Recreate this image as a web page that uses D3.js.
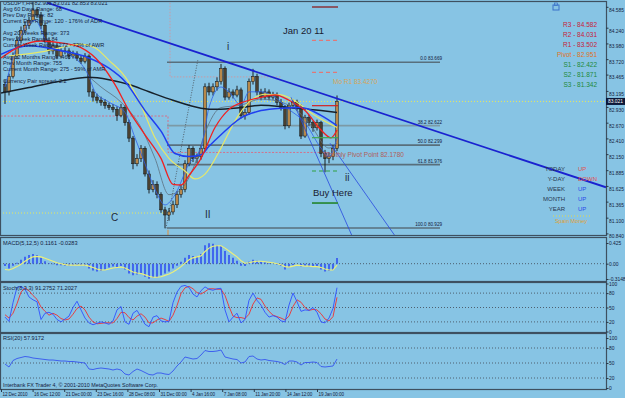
<!DOCTYPE html>
<html>
<head>
<meta charset="utf-8">
<script src="https://cdn.jsdelivr.net/npm/d3@7"></script>
<style>
  body { margin: 0; background: #87c4e4; }
  svg { display: block; font-family: "Liberation Sans", Arial, sans-serif; }
</style>
</head>
<body>
<svg id="chart"></svg>
<script>
// ---- price bars (USDJPY H4) ----
const opens = [83.300,83.178,83.432,83.771,84.025,84.195,84.280,84.364,84.534,84.449,
  84.280,84.025,83.856,83.941,83.771,83.856,83.856,83.771,83.805,83.737,
  83.686,83.771,83.178,83.093,83.042,83.008,82.957,82.924,82.890,82.788,
  82.924,82.669,82.415,81.991,82.076,82.246,81.822,81.568,81.652,81.483,
  81.229,81.144,81.195,81.313,81.483,81.568,81.991,82.246,82.076,82.110,
  82.246,83.263,83.178,83.263,83.347,83.568,83.093,83.178,83.127,83.212,
  82.788,82.839,83.347,83.432,83.178,83.093,83.178,83.093,83.127,83.008,
  82.924,82.619,82.957,83.008,82.924,82.449,82.754,82.669,82.585,82.669,
  82.161,82.076,82.110,82.246];
const highs = [83.380,83.480,83.830,84.100,84.260,84.350,84.420,84.700,84.560,84.500,
  84.320,84.080,84.000,83.990,83.900,83.920,83.900,83.860,83.850,83.780,
  83.820,83.800,83.230,83.150,83.100,83.060,83.000,82.980,82.940,82.980,
  82.960,82.720,82.450,82.150,82.300,82.280,81.880,81.720,81.700,81.520,
  81.280,81.260,81.380,81.540,81.640,82.050,82.300,82.280,82.160,82.300,
  83.320,83.330,83.320,83.420,83.640,83.600,83.240,83.220,83.280,83.250,
  82.900,83.400,83.560,83.480,83.230,83.240,83.220,83.180,83.170,83.060,
  82.960,83.000,83.060,83.050,82.970,82.800,82.800,82.700,82.720,82.700,
  82.220,82.180,82.300,83.120];
const lows = [82.980,83.120,83.400,83.720,83.980,84.150,84.220,84.330,84.400,84.220,
  83.980,83.800,83.800,83.720,83.730,83.800,83.720,83.730,83.690,83.640,
  83.650,83.100,83.020,82.990,82.950,82.900,82.880,82.840,82.700,82.760,
  82.620,82.350,81.900,81.950,82.020,81.780,81.500,81.520,81.420,81.180,
  80.924,81.050,81.150,81.260,81.430,81.520,81.950,82.020,82.000,82.060,
  82.200,83.120,83.120,83.200,83.300,83.040,83.050,83.070,83.090,82.740,
  82.720,82.800,83.300,83.120,83.040,83.050,83.040,83.050,82.960,82.870,
  82.560,82.580,82.900,82.870,82.400,82.420,82.620,82.520,82.540,82.100,
  81.850,82.000,82.050,82.200];
const closes = [83.178,83.432,83.771,84.025,84.195,84.280,84.364,84.534,84.449,84.280,
  84.025,83.856,83.941,83.771,83.856,83.856,83.771,83.805,83.737,83.686,
  83.771,83.178,83.093,83.042,83.008,82.957,82.924,82.890,82.788,82.924,
  82.669,82.415,81.991,82.076,82.246,81.822,81.568,81.652,81.483,81.229,
  81.144,81.195,81.313,81.483,81.568,81.991,82.246,82.076,82.110,82.246,
  83.263,83.178,83.263,83.347,83.568,83.093,83.178,83.127,83.212,82.788,
  82.839,83.347,83.432,83.178,83.093,83.178,83.093,83.127,83.008,82.924,
  82.619,82.957,83.008,82.924,82.449,82.754,82.669,82.585,82.669,82.161,
  82.076,82.110,82.246,83.021];

// ---- moving averages, [bar, price] ----
const maBlack = [[-1,83.16],[6,83.25],[14,83.36],[21,83.42],[26,83.38],[31,83.30],[36,83.18],[42,83.04],
  [49,82.91],[53,82.89],[59,82.92],[64,82.96],[71,82.92],[79,82.87],[83,82.84]];
const maRed = [[-1,83.74],[4,83.94],[9,84.02],[14,83.99],[19,83.91],[24,83.64],[27.5,83.30],[31,82.87],
  [35,82.47],[39,82.08],[42,81.65],[44,81.64],[46,81.80],[49,82.08],[52.5,82.59],[56,82.89],[60,83.02],
  [64,83.09],[67.5,83.13],[71,83.04],[75,82.87],[79,82.55],[81.5,82.42],[83,82.55]];
const maBlue = [[-1,83.80],[6,83.94],[14,83.86],[21,83.74],[26,83.57],[30,83.35],[35,82.87],[39,82.53],
  [42.5,82.16],[46,82.11],[49,82.14],[51,82.28],[54,82.47],[59,82.75],[64,82.87],[69,82.91],[74,82.92],
  [79,82.79],[83,82.62]];
const maYellow = [[1,83.77],[9,83.84],[14,83.91],[19,83.97],[22.5,83.91],[26,83.70],[30,83.43],[34,82.96],
  [37.5,82.42],[41,82.08],[45,81.87],[47.5,81.74],[50,81.82],[54,82.25],[57.5,82.70],[61,83.01],
  [65,83.14],[69,83.13],[72.5,83.03],[77,82.81],[83,82.59]];
const maFast = [[0,83.26],[4,84.11],[7.5,84.36],[11,83.94],[16,83.81],[21,83.43],[22.5,83.18],[26,83.01],
  [30,82.84],[32.5,82.42],[35,81.99],[37.5,81.57],[40,81.31],[42.5,81.48],[46,81.99],[49,82.25],
  [51,82.92],[54,83.26],[56,83.18],[59,82.96],[61,83.18],[64,83.18],[67.5,83.09],[71,82.89],
  [75,82.67],[79,82.25],[81,82.11],[83,82.42]];
const maGray = [[21,83.43],[24,83.26],[29,83.01],[34,82.59],[37.5,82.08],[41,81.48],[44,81.57],[47.5,81.99],
  [50,82.50],[54,82.92],[59,82.96],[64,83.06],[71,82.96],[76,82.67],[81,82.25],[83,82.33]];

// ---- drawn objects ----
const trendMain = [[10.5,84.652],[150.25,81.602]];
const trendDotted = [[40.25,80.924],[48.25,83.72]];
const channelA = [[71.5,83.09],[86.75,80.80]];
const channelB = [[81.25,82.33],[97.5,80.80]];
const fibLevels = ["0.0","38.2","50.0","61.8","100.0"];
const fibPrices = [83.669,82.622,82.299,81.976,80.929];
const fibFrom = 40.5, fibTo = 108.75;
const pivotNames = ["R3","R2","R1","Pivot","S1","S2","S3"];
const pivotValues = [84.582,84.031,83.502,82.951,82.422,81.871,81.342];
const monthPivotPrev = 82.780, monthPivot = 82.178, monthR1 = 83.427, monthStart = 40.75;
const bidPrice = 83.021, lowMark = 81.177;
const waveLabels = ["C","II","i","ii"];
const waveBars = [26.5,50,55.5,85];
const wavePrices = [81.05,81.09,83.87,81.70];

// ---- indicators ----
const macdMain = [-0.05,-0.10,-0.04,0.02,0.08,0.14,0.18,0.20,0.18,0.12,
  0.05,0.01,-0.01,-0.03,-0.03,-0.04,-0.04,-0.03,-0.02,-0.03,
  -0.04,-0.10,-0.14,-0.16,-0.15,-0.12,-0.08,-0.06,-0.07,-0.05,
  -0.12,-0.20,-0.24,-0.22,-0.20,-0.27,-0.31,-0.29,-0.28,-0.24,
  -0.20,-0.16,-0.10,-0.04,0.04,0.12,0.18,0.16,0.15,0.20,
  0.38,0.42,0.41,0.38,0.36,0.26,0.18,0.12,0.06,-0.04,
  -0.05,0.04,0.08,0.06,0.04,0.03,0.01,0.00,-0.02,-0.05,
  -0.12,-0.08,-0.03,0.00,-0.06,-0.05,-0.06,-0.07,-0.06,-0.12,
  -0.16,-0.15,-0.13,0.1161];
const macdSignal = [-0.12,-0.13,-0.10,-0.06,-0.01,0.05,0.10,0.14,0.15,0.14,
  0.11,0.08,0.05,0.02,0.00,-0.02,-0.03,-0.03,-0.03,-0.03,
  -0.03,-0.05,-0.08,-0.11,-0.13,-0.13,-0.11,-0.09,-0.08,-0.07,
  -0.09,-0.13,-0.17,-0.19,-0.20,-0.23,-0.26,-0.28,-0.28,-0.27,
  -0.24,-0.21,-0.17,-0.12,-0.06,0.01,0.08,0.12,0.14,0.16,
  0.25,0.32,0.36,0.37,0.37,0.32,0.26,0.20,0.14,0.06,
  0.01,0.02,0.04,0.05,0.05,0.04,0.03,0.02,0.00,-0.02,
  -0.06,-0.07,-0.05,-0.03,-0.04,-0.05,-0.05,-0.06,-0.06,-0.08,
  -0.11,-0.13,-0.13,-0.0283];
const stochK = [30,21,60,92,94,88,72,66,62,25,38,40,36,25,20,26,32,50,63,45,
  28,18,14,17,20,18,15,22,45,52,20,15,38,44,30,15,10,30,33,22,
  20,21,60,82,94,96,92,78,72,85,93,88,86,89,90,45,20,30,38,18,
  25,65,80,65,55,40,30,33,30,22,20,55,80,62,42,45,44,50,40,20,
  18,28,48,91.2752];
const stochD = [35,28,38,58,82,91,85,75,67,51,42,34,38,34,27,24,26,36,48,53,
  45,30,20,16,17,18,18,18,27,40,39,29,24,32,37,30,18,18,24,28,
  25,21,34,54,79,91,94,89,81,78,83,89,89,88,88,75,52,32,29,29,
  27,36,57,70,67,53,42,34,31,28,24,32,52,66,61,50,44,46,45,37,
  26,22,31,71.2027];
const rsiVals = [48,42,55,59,61,63,62,60,59,58,57,56,56,55,54,54,53,53,52,51,
  50,38,37,39,40,39,38,36,38,36,28,26,33,38,35,31,27,26,30,30,
  28,27,34,44,52,62,60,58,59,66,75,73,73,74,76,62,60,58,57,50,
  52,63,64,58,56,57,55,54,53,51,47,54,54,52,46,51,51,52,51,43,
  42,43,44,57.9172];

// ---- axis labels ----
const priceTicks = [84.585,84.240,83.980,83.720,83.465,83.195,82.930,82.670,82.410,82.150,81.885,81.625,81.365,81.100,80.840];
const macdTicks = [0.425,0,-0.3148];
const macdTickText = ["0.425","0.00","-0.3148"];
const oscTicks = [100,80,50,20,0];
const dateLabels = ["12 Dec 2010","16 Dec 12:00","21 Dec 00:00","23 Dec 16:00","28 Dec 08:00","31 Dec 00:00",
  "4 Jan 16:00","7 Jan 08:00","11 Jan 20:00","14 Jan 12:00","19 Jan 00:00"];
const dateBars = [-1,6.9,14.8,22.7,30.6,38.5,46.4,54.3,62.2,70.1,78];
const infoLines = ["USDJPY,H4  82.908 83.031 82.853 83.021","Avg 60 Days Range: 68","Prev Day Range: 82",
  "Current Day Range: 120 - 176% of ADR","","Avg 20 Weeks Range: 373","Prev Week Range: 84",
  "Current Week Range: 272 - 73% of AWR","","Avg 12 Months Range: 466","Prev Month Range: 755",
  "Current Month Range: 275 - 59% of AMR","","Currency Pair spread: 2.2"];
const trendNames = ["TODAY","Y-DAY","WEEK","MONTH","YEAR"];
const trendValues = ["UP","DOWN","UP","UP","UP"];

// ================= drawing =================
const W = 625, H = 398, R = 606;
const panels = { main: [2, 235], macd: [238, 281], stoch: [283, 332], rsi: [334, 389] };
const ink = "#14213d";

const svg = d3.select("#chart").attr("width", W).attr("height", H);

const x = d3.scaleLinear().domain([0, 83]).range([5, 337]);
const yP = d3.scaleLinear().domain([84.582, 80.840]).range([7, 233.4]);
const yM = d3.scaleLinear().domain([0.425, -0.3148]).range([243, 279]);
const yS = d3.scaleLinear().domain([100, 0]).range([283.5, 331.5]);
const yR = d3.scaleLinear().domain([100, 0]).range([338, 388]);

const defs = svg.append("defs");
Object.entries(panels).forEach(([k, [t, b]]) => {
  defs.append("clipPath").attr("id", "clip-" + k)
    .append("rect").attr("x", 1).attr("y", t).attr("width", R - 1).attr("height", b - t);
});

const main = svg.append("g").attr("clip-path", "url(#clip-main)");
const lineP = d3.line().x(d => x(d[0])).y(d => yP(d[1]));
const smoothP = d3.line().x(d => x(d[0])).y(d => yP(d[1])).curve(d3.curveMonotoneX);

// horizontal helper lines
main.append("line")
  .attr("x1", 0).attr("x2", R).attr("y1", yP(bidPrice)).attr("y2", yP(bidPrice))
  .attr("stroke", "#e8e85a").attr("stroke-dasharray", "1,2");
main.append("line")
  .attr("x1", 0).attr("x2", x(monthStart - 0.75)).attr("y1", yP(lowMark)).attr("y2", yP(lowMark))
  .attr("stroke", "#e8e85a").attr("stroke-dasharray", "1,2");

const pinkPath = [[-2, monthPivotPrev], [monthStart, monthPivotPrev], [monthStart, monthPivot], [81, monthPivot]];
main.append("path").attr("d", lineP(pinkPath))
  .attr("fill", "none").attr("stroke", "#d4708a").attr("stroke-dasharray", "2,1.5");
main.append("path").attr("d", lineP([[monthStart + 0.5, 84.9], [monthStart + 0.5, monthR1], [69, monthR1]]))
  .attr("fill", "none").attr("stroke", "#c89aa6").attr("stroke-dasharray", "1.5,1.5");

// fibonacci levels
main.selectAll(".fib").data(fibPrices).join("line")
  .attr("x1", x(fibFrom)).attr("x2", x(fibTo))
  .attr("y1", d => yP(d)).attr("y2", d => yP(d))
  .attr("stroke", (d, i) => i === 1 ? "#7c9aa6" : "#586f7c").attr("stroke-width", 1.6);
main.selectAll(".fibt").data(fibPrices).join("text")
  .attr("x", x(fibTo) + 2).attr("y", d => yP(d) - 2)
  .attr("text-anchor", "end").attr("font-size", 4.6).attr("fill", ink)
  .text((d, i) => `${fibLevels[i]}   ${d.toFixed(3)}`);

// orange marker
main.append("line")
  .attr("x1", x(monthStart)).attr("x2", x(monthStart)).attr("y1", yP(80.90)).attr("y2", 240)
  .attr("stroke", "#e0903a");

// dotted fib trend
main.append("path").attr("d", lineP(trendDotted))
  .attr("stroke", "#50606c").attr("stroke-dasharray", "1,1.5").attr("fill", "none");

// candles
const bars = closes.map((c, i) => ({ i, o: opens[i], h: highs[i], l: lows[i], c }));
main.selectAll(".wick").data(bars).join("line")
  .attr("x1", d => x(d.i)).attr("x2", d => x(d.i))
  .attr("y1", d => yP(d.h)).attr("y2", d => yP(d.l))
  .attr("stroke", "#111").attr("stroke-width", 0.9);
main.selectAll(".body").data(bars).join("rect")
  .attr("x", d => x(d.i) - 1.3).attr("width", 2.6)
  .attr("y", d => yP(Math.max(d.o, d.c)))
  .attr("height", d => Math.max(0.8, Math.abs(yP(d.o) - yP(d.c))))
  .attr("fill", d => d.c >= d.o ? "#b8884a" : "#4a4030")
  .attr("stroke", "#111").attr("stroke-width", 0.5);

// moving averages
[[maGray, "#5c7080", 0.8], [maFast, "#2f5fe8", 0.8], [maBlack, "#16202a", 1.5],
 [maYellow, "#e6e86a", 1.2], [maBlue, "#1f3ff0", 1.5], [maRed, "#f02020", 1.3]]
  .forEach(([pts, col, w]) => {
    main.append("path").attr("d", smoothP(pts))
      .attr("fill", "none").attr("stroke", col).attr("stroke-width", w);
  });

// trend lines
main.append("path").attr("d", lineP(trendMain))
  .attr("stroke", "#1a22d0").attr("stroke-width", 1.8).attr("fill", "none");
[channelA, channelB].forEach(pts => {
  main.append("path").attr("d", lineP(pts))
    .attr("stroke", "#2848e0").attr("stroke-width", 0.8).attr("fill", "none");
});

// pivot markers
const pivColors = ["#8b1010", "#e07878", "#e07878", "#d42020", "#40a850", "#30a040", "#2e8b40"];
const pivDash = [null, "4,3", "4,3", null, null, "4,3", null];
main.selectAll(".piv").data(pivotValues).join("line")
  .attr("x1", x(76.75)).attr("x2", x(83.25))
  .attr("y1", d => yP(d)).attr("y2", d => yP(d))
  .attr("stroke", (d, i) => pivColors[i])
  .attr("stroke-dasharray", (d, i) => pivDash[i])
  .attr("stroke-width", (d, i) => i === 6 ? 1.8 : 1.2);

// on-chart labels
main.append("text").attr("x", x(82)).attr("y", yP(monthR1) + 7)
  .attr("font-size", 6.5).attr("fill", "#d8a458").text("Mo R1   83.4270");
main.append("text").attr("x", x(79.5)).attr("y", yP(monthPivot) + 5)
  .attr("font-size", 6.5).attr("fill", "#b0605a").text("Monthly Pivot Point   82.1780");
main.append("text").attr("x", x(77)).attr("y", yP(81.455))
  .attr("font-size", 9.5).attr("fill", "#1a2030").text("Buy Here");
main.selectAll(".wave").data(waveLabels).join("text")
  .attr("x", (d, i) => x(waveBars[i])).attr("y", (d, i) => yP(wavePrices[i]))
  .attr("font-size", 10).attr("fill", "#1e2a3a").text(d => d);
main.append("text").attr("x", 283).attr("y", 34)
  .attr("font-size", 9.5).attr("fill", "#1a2030").text("Jan 20 11");

// info box
svg.selectAll(".info").data(infoLines).join("text")
  .attr("x", 3).attr("y", (d, i) => 3 + i * 6).attr("dy", "0.35em")
  .attr("font-size", 5.6).attr("fill", ink).text(d => d);

// pivot table
const pivTextColors = ["#c8203a", "#c8203a", "#c8203a", "#e0701e", "#1e8a3a", "#1e8a3a", "#1e8a3a"];
svg.selectAll(".pivt").data(pivotValues).join("text")
  .attr("x", 597).attr("y", (d, i) => 25 + i * 10).attr("dy", "0.35em")
  .attr("text-anchor", "end").attr("font-size", 6.5)
  .attr("fill", (d, i) => pivTextColors[i])
  .text((d, i) => `${pivotNames[i]} - ${d.toFixed(3)}`);

// trend table
svg.selectAll(".trn").data(trendNames).join("text")
  .attr("x", 565).attr("y", (d, i) => 169 + i * 10).attr("dy", "0.35em")
  .attr("text-anchor", "end").attr("font-size", 6).attr("fill", "#26364e").text(d => d);
svg.selectAll(".trv").data(trendValues).join("text")
  .attr("x", 578).attr("y", (d, i) => 169 + i * 10).attr("dy", "0.35em")
  .attr("font-size", 6).attr("fill", (d, i) => i < 2 ? "#e05050" : "#2a4ae8").text(d => d);
svg.append("line").attr("x1", 553).attr("x2", 590).attr("y1", 216).attr("y2", 216)
  .attr("stroke", "#e8d84a").attr("stroke-dasharray", "1,2");
svg.append("text").attr("x", 571).attr("y", 221).attr("dy", "0.35em").attr("text-anchor", "middle")
  .attr("font-size", 5.5).attr("fill", "#e0a030").text("Spain Money");

// small icon top-right
svg.append("rect").attr("x", 553).attr("y", 5).attr("width", 6).attr("height", 5)
  .attr("fill", "none").attr("stroke", "#3a70c8");
svg.append("rect").attr("x", 554.5).attr("y", 3).attr("width", 3).attr("height", 2.5)
  .attr("fill", "none").attr("stroke", "#3a70c8").attr("stroke-width", 0.7);

// ---- MACD panel ----
const macd = svg.append("g").attr("clip-path", "url(#clip-macd)");
macd.append("line").attr("x1", 0).attr("x2", R).attr("y1", yM(0)).attr("y2", yM(0))
  .attr("stroke", "#4e6070").attr("stroke-dasharray", "1,2");
macd.selectAll(".hist").data(macdMain).join("line")
  .attr("x1", (d, i) => x(i)).attr("x2", (d, i) => x(i))
  .attr("y1", yM(0)).attr("y2", d => yM(d))
  .attr("stroke", "#3050f0").attr("stroke-width", 1.6);
macd.append("path")
  .attr("d", d3.line().x((d, i) => x(i)).y(d => yM(d))(macdSignal))
  .attr("fill", "none").attr("stroke", "#eef078").attr("stroke-width", 1.1);
svg.append("text").attr("x", 3).attr("y", 243).attr("dy", "0.35em")
  .attr("font-size", 5.6).attr("fill", ink).text("MACD(5,12,5) 0.1161 -0.0283");

// ---- Stochastic panel ----
const stoch = svg.append("g").attr("clip-path", "url(#clip-stoch)");
stoch.selectAll(".lvl").data([80, 50, 20]).join("line")
  .attr("x1", 0).attr("x2", R).attr("y1", d => yS(d)).attr("y2", d => yS(d))
  .attr("stroke", "#4e6070").attr("stroke-dasharray", "1,2");
stoch.append("path").attr("d", d3.line().x((d, i) => x(i)).y(d => yS(d))(stochD))
  .attr("fill", "none").attr("stroke", "#f03030").attr("stroke-width", 0.9);
stoch.append("path").attr("d", d3.line().x((d, i) => x(i)).y(d => yS(d))(stochK))
  .attr("fill", "none").attr("stroke", "#3050ff").attr("stroke-width", 0.9);
svg.append("text").attr("x", 3).attr("y", 288).attr("dy", "0.35em")
  .attr("font-size", 5.6).attr("fill", ink).text("Stoch(8,3,3) 91.2752 71.2027");

// ---- RSI panel ----
const rsi = svg.append("g").attr("clip-path", "url(#clip-rsi)");
rsi.selectAll(".lvl").data([80, 50, 20]).join("line")
  .attr("x1", 0).attr("x2", R).attr("y1", d => yR(d)).attr("y2", d => yR(d))
  .attr("stroke", "#4e6070").attr("stroke-dasharray", "1,2");
rsi.append("path").attr("d", d3.line().x((d, i) => x(i)).y(d => yR(d))(rsiVals))
  .attr("fill", "none").attr("stroke", "#3555ee").attr("stroke-width", 0.9);
svg.append("text").attr("x", 3).attr("y", 338).attr("dy", "0.35em")
  .attr("font-size", 5.6).attr("fill", ink).text("RSI(20) 57.9172");
svg.append("text").attr("x", 3).attr("y", 385).attr("dy", "0.35em")
  .attr("font-size", 5.4).attr("fill", ink)
  .text("Interbank FX Trader 4, \u00a9 2001-2010 MetaQuotes Software Corp.");

// ---- panel frames ----
Object.values(panels).forEach(([t, b]) => {
  svg.append("rect").attr("x", 0.5).attr("y", t - 0.5).attr("width", R).attr("height", b - t + 1)
    .attr("fill", "none").attr("stroke", "#3e5060").attr("stroke-width", 1.2);
});

// ---- right axes ----
function styleAxis(g) {
  g.select(".domain").remove();
  g.selectAll("line").attr("stroke", "#2a3a4a");
  g.selectAll("text").attr("fill", ink).attr("font-size", 4.9)
    .attr("font-family", "Liberation Sans, Arial, sans-serif");
}
svg.append("g").attr("transform", `translate(${R},0)`)
  .call(d3.axisRight(yP).tickValues(priceTicks).tickSize(2.5).tickPadding(0.5).tickFormat(d3.format(".3f")))
  .call(styleAxis).call(g => g.selectAll("text").attr("dy", "0.9em"));
svg.append("g").attr("transform", `translate(${R},0)`)
  .call(d3.axisRight(yM).tickValues(macdTicks).tickSize(2.5).tickPadding(0.5).tickFormat((d, i) => macdTickText[i]))
  .call(styleAxis);
svg.append("g").attr("transform", `translate(${R},0)`)
  .call(d3.axisRight(yS).tickValues(oscTicks).tickSize(2.5).tickPadding(0.5))
  .call(styleAxis);
svg.append("g").attr("transform", `translate(${R},0)`)
  .call(d3.axisRight(yR).tickValues(oscTicks).tickSize(2.5).tickPadding(0.5))
  .call(styleAxis);

// current price box
svg.append("rect").attr("x", R).attr("y", yP(bidPrice) - 3.5).attr("width", 19).attr("height", 7).attr("fill", "#0c1838");
svg.append("text").attr("x", R + 2).attr("y", yP(bidPrice)).attr("dy", "0.35em")
  .attr("font-size", 4.9).attr("fill", "#fff").text(bidPrice.toFixed(3));

// ---- time axis ----
const xa = svg.append("g").attr("transform", `translate(0,${panels.rsi[1]})`)
  .call(d3.axisBottom(x).tickValues(dateBars).tickSize(3).tickFormat((d, i) => dateLabels[i]))
  .call(styleAxis);
xa.selectAll("text").attr("text-anchor", "start").attr("dx", "1").attr("y", 3.5)
  .attr("font-size", 4.6).attr("letter-spacing", "-0.1");
</script>
</body>
</html>
